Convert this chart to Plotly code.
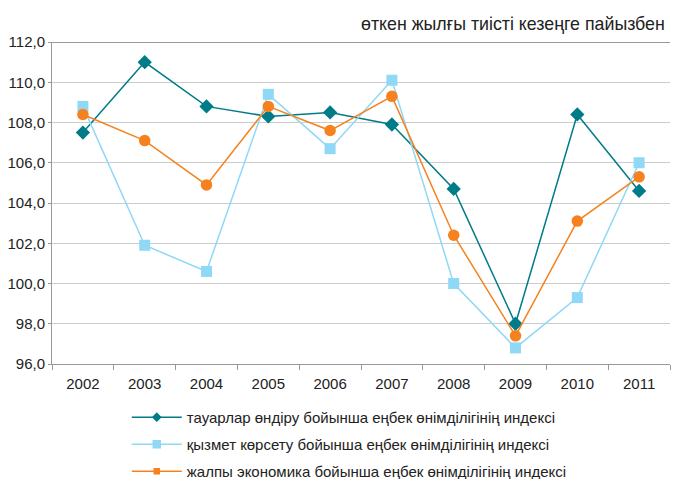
import plotly.graph_objects as go

# Years and productivity indices (previous year = 100)
years = ["2002", "2003", "2004", "2005", "2006", "2007", "2008", "2009", "2010", "2011"]
goods = [107.5, 111.0, 108.8, 108.3, 108.5, 107.9, 104.7, 98.0, 108.4, 104.6]
services = [108.8, 101.9, 100.6, 109.4, 106.7, 110.1, 100.0, 96.8, 99.3, 106.0]
economy = [108.4, 107.1, 104.9, 108.8, 107.6, 109.3, 102.4, 97.4, 103.1, 105.3]

names = [
    "тауарлар өндіру бойынша еңбек өнімділігінің индексі",
    "қызмет көрсету бойынша еңбек өнімділігінің индексі",
    "жалпы экономика бойынша еңбек өнімділігінің индексі",
]
y_ticks = [96, 98, 100, 102, 104, 106, 108, 110, 112]

TEAL = "#007b88"
SKY = "#8fd8f6"
ORANGE = "#f5821f"
FONT = "Liberation Sans, Arial, sans-serif"

series = [
    (names[0], goods, TEAL, "diamond", 11, 7.5),
    (names[1], services, SKY, "square", 11, 8.5),
    (names[2], economy, ORANGE, "circle", 11.5, 6.5),
]
legend_symbols = ["diamond", "square", "square"]

fig = go.Figure()
for i, (name, vals, color, sym, size, lsize) in enumerate(series):
    group = f"g{i}"
    fig.add_trace(go.Scatter(
        x=years, y=vals, name=name, mode="lines+markers",
        line=dict(color=color, width=1.5),
        marker=dict(symbol=sym, size=size, color=color),
        showlegend=False, legendgroup=group,
    ))
    # legend key with a smaller marker
    fig.add_trace(go.Scatter(
        x=[None], y=[None], name=name, mode="lines+markers",
        line=dict(color=color, width=1.5),
        marker=dict(symbol=legend_symbols[i], size=lsize, color=color),
        legendgroup=group,
    ))

fig.add_shape(type="line", xref="paper", yref="y", x0=0, x1=1, y0=112, y1=112,
              line=dict(color="#333333", width=1.2))

fig.update_layout(
    width=674, height=479,
    margin=dict(l=52, r=4, t=42, b=115),
    paper_bgcolor="white", plot_bgcolor="white",
    separators=", ",
    font=dict(family=FONT, size=15, color="#222222"),
    showlegend=True,
    legend=dict(
        xref="paper", yref="container",
        x=0.121, y=0.163, xanchor="left", yanchor="top",
        font=dict(family=FONT, size=15, color="#222222"),
        itemwidth=50, tracegroupgap=4.5,
        bgcolor="rgba(0,0,0,0)",
    ),
    annotations=[dict(
        text="өткен жылғы тиісті кезеңге пайызбен",
        xref="paper", yref="paper", x=1.0, y=1.0, yshift=6, xshift=-3,
        xanchor="right", yanchor="bottom", showarrow=False,
        font=dict(family=FONT, size=17.8, color="#222222"),
    )],
)

fig.update_xaxes(
    type="category", range=[-0.5, len(years) - 0.5],
    tickson="boundaries", ticks="outside", ticklen=5,
    tickcolor="#999999", showline=True, linecolor="#999999", linewidth=1,
    showgrid=False, tickfont=dict(size=15), automargin=False,
    ticklabelstandoff=6,
)
fig.update_yaxes(
    range=[96, 112], tickvals=y_ticks, tickformat=".1f",
    showline=True, linecolor="#999999", linewidth=1,
    ticks="outside", ticklen=3, tickcolor="#999999",
    gridcolor="#cccccc", gridwidth=1, zeroline=False,
    tickfont=dict(size=15), automargin=False,
)

fig.write_html("out.html")
